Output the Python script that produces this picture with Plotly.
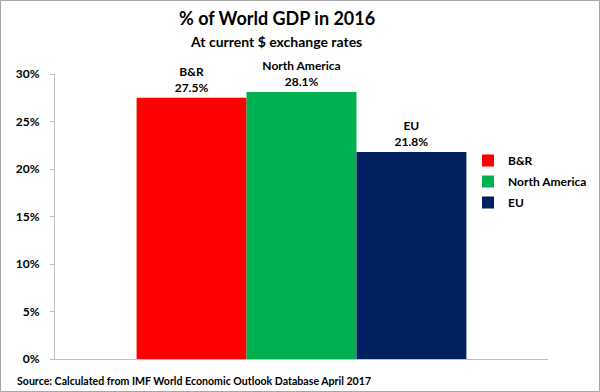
import plotly.graph_objects as go

series = ["B&R", "North America", "EU"]
values = [0.275, 0.281, 0.218]
colors = ["#FF0000", "#00B050", "#002060"]
category = ["2016"]

FONT = "Lato, 'Open Sans', sans-serif"
W, H = 600, 392
ML, MR, MT, MB = 55, 52, 74, 33

fig = go.Figure()
for name, v, c in zip(series, values, colors):
    fig.add_trace(go.Bar(
        x=category, y=[v], name=name, marker=dict(color=c, line=dict(width=0)),
        text=[f"{name}<br>{v:.1%}"], textposition="outside", legendgroup=name,
        textfont=dict(size=12, color="#000000", family=FONT, weight="bold"), cliponaxis=False,
    ))

plot_h = H - MT - MB
plot_w = W - ML - MR
def py(ypix):
    return (H - MB - ypix) / plot_h
def px(xpix):
    return (xpix - ML) / plot_w

fig.update_layout(
    width=W, height=H, autosize=False,
    margin=dict(l=ML, r=MR, t=MT, b=MB, autoexpand=False),
    paper_bgcolor="white", plot_bgcolor="white",
    barmode="group", bargap=0.331, bargroupgap=0,
    font=dict(family=FONT, color="#000000"),
    showlegend=True,
    legend=dict(x=px(468), y=py(146), xanchor="left", yanchor="top",
                font=dict(size=12, family=FONT, weight="bold"), itemwidth=30,
                traceorder="grouped", tracegroupgap=2,
                bgcolor="rgba(0,0,0,0)"),
    xaxis=dict(showticklabels=False, showline=True, linecolor="#BFBFBF", linewidth=1,
               ticks="", showgrid=False),
    yaxis=dict(range=[0, 0.30], dtick=0.05, tickformat=".0%", showline=True,
               linecolor="#BFBFBF", linewidth=1, ticks="outside", ticklen=4,
               tickcolor="#BFBFBF", showgrid=False, zeroline=False,
               tickfont=dict(size=12, family=FONT, weight="bold"), ticklabelstandoff=8),
    annotations=[
        dict(text="<b>% of World GDP in 2016</b>", x=px(277), y=py(18), xref="paper", yref="paper",
             xanchor="center", yanchor="middle", showarrow=False, font=dict(size=18)),
        dict(text="<b>At current $ exchange rates</b>", x=px(276), y=py(41), xref="paper", yref="paper",
             xanchor="center", yanchor="middle", showarrow=False, font=dict(size=14)),
        dict(text="<b>Source: Calculated from IMF World Economic Outlook Database April 2017</b>",
             x=px(15), y=py(381), xref="paper", yref="paper", xanchor="left", yanchor="middle",
             showarrow=False, font=dict(size=10.6)),
    ],
)

fig.add_shape(type="rect", xref="paper", yref="paper", x0=px(0.5), x1=px(W - 0.5),
              y0=py(H - 0.5), y1=py(0.5), line=dict(color="#A6A6A6", width=1))

fig.write_html("out.html",
               config=dict(displayModeBar=False, responsive=False),
               post_script="document.body.style.margin='0';document.body.style.overflow='hidden';")
